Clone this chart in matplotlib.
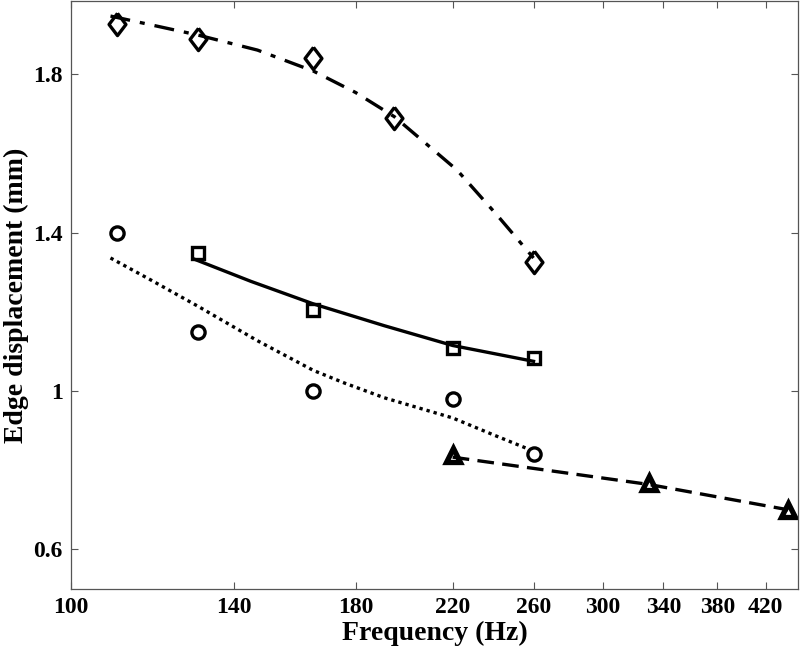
import numpy as np
import matplotlib
matplotlib.use('Agg')
import matplotlib.pyplot as plt
from matplotlib.ticker import FixedLocator, FixedFormatter, NullLocator

# measured edge displacement (mm) vs excitation frequency (Hz)
freq_diamond = [110, 130, 165, 195, 260]
disp_diamond = [1.927, 1.888, 1.840, 1.689, 1.326]

freq_square = [130, 165, 220, 260]
disp_square = [1.348, 1.204, 1.108, 1.084]

freq_circle = [110, 130, 165, 220, 260]
disp_circle = [1.400, 1.148, 1.000, 0.980, 0.841]

freq_triangle = [220, 330, 440]
disp_triangle = [0.839, 0.768, 0.699]

# fitted trend curves
fit_freq_diamond = [108.5, 130, 147, 165, 180, 195, 222, 241, 260]
fit_disp_diamond = [1.947, 1.899, 1.861, 1.808, 1.754, 1.693, 1.558, 1.445, 1.336]

fit_freq_square = [129, 145, 165, 191, 220, 260]
fit_disp_square = [1.333, 1.277, 1.220, 1.165, 1.115, 1.075]

fit_freq_circle = [108.5, 118, 130, 147, 165, 176, 191, 220, 239, 258]
fit_disp_circle = [1.336, 1.280, 1.214, 1.127, 1.052, 1.020, 0.983, 0.932, 0.890, 0.852]

fit_freq_triangle = [220, 330, 440]
fit_disp_triangle = [0.833, 0.764, 0.700]

xticks = [100, 140, 180, 220, 260, 300, 340, 380, 420]
yticks = [0.6, 1.0, 1.4, 1.8]
ytick_labels = ['0.6', '1', '1.4', '1.8']

plt.rcParams['font.family'] = ['Liberation Serif', 'DejaVu Serif']
plt.rcParams['font.weight'] = 'bold'

fig = plt.figure(figsize=(8, 6.55), dpi=100)
ax = fig.add_axes([71 / 800, 66 / 655, 727 / 800, 588 / 655])

lw = 2.4
mk = dict(color='black', markerfacecolor='none', markeredgewidth=2.4, linestyle='none')
diamond = [(0, 1), (0.76, 0), (0, -1), (-0.76, 0), (0, 1)]

ax.plot(fit_freq_diamond, fit_disp_diamond, color='black',
        linestyle=(0, (6, 3, 1.5, 3)), linewidth=lw)
ax.plot(freq_diamond, disp_diamond, marker=diamond, markersize=16, **mk)

ax.plot(fit_freq_square, fit_disp_square, color='black', linestyle='-', linewidth=lw)
ax.plot(freq_square, disp_square, marker='s', markersize=8, **mk)

ax.plot(fit_freq_circle, fit_disp_circle, color='black',
        linestyle=(0, (1, 1.2)), linewidth=lw)
ax.plot(freq_circle, disp_circle, marker='o', markersize=9.5, **mk)

ax.plot(fit_freq_triangle, fit_disp_triangle, color='black',
        linestyle=(0, (5, 2.5)), linewidth=lw)
ax.plot(freq_triangle, disp_triangle, marker='^', markersize=10.5,
        color='black', markerfacecolor='none', markeredgewidth=3.8, linestyle='none')

ax.set_xscale('log')
ax.set_xlim(100, 449)
ax.set_ylim(0.5, 1.985)

ax.xaxis.set_major_locator(FixedLocator(xticks))
ax.xaxis.set_major_formatter(FixedFormatter([str(t) for t in xticks]))
ax.xaxis.set_minor_locator(NullLocator())
ax.yaxis.set_major_locator(FixedLocator(yticks))
ax.yaxis.set_major_formatter(FixedFormatter(ytick_labels))

ax.tick_params(direction='in', length=5, width=0.8, color='#555555',
               top=True, right=True, labelsize=17, pad=6)
for sp in ax.spines.values():
    sp.set_color('#555555')
    sp.set_linewidth(0.9)

ax.set_xlabel('Frequency (Hz)', fontsize=20, fontweight='bold', labelpad=2)
ax.set_ylabel('Edge displacement (mm)', fontsize=20, fontweight='bold', labelpad=3)

fig.savefig('out.png', dpi=100)
